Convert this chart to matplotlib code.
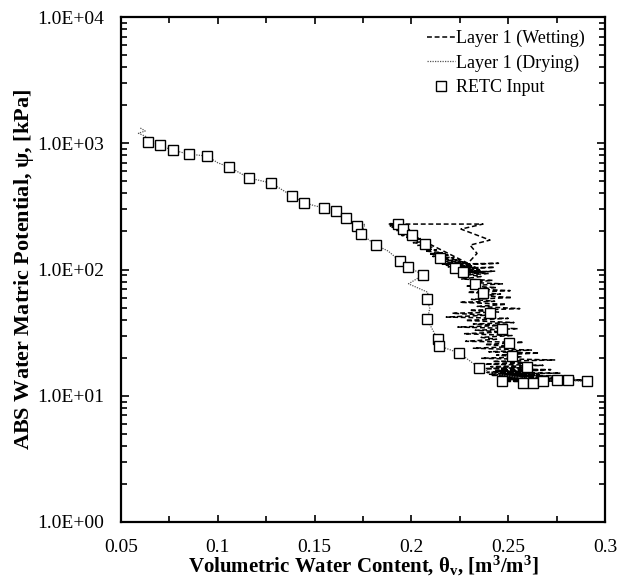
import matplotlib
matplotlib.use("Agg")
import matplotlib.pyplot as plt
from matplotlib.ticker import FixedLocator, LogLocator, NullFormatter, MultipleLocator

plt.rcParams['font.family'] = ['Liberation Serif', 'DejaVu Serif']
plt.rcParams['mathtext.fontset'] = 'custom'
plt.rcParams['mathtext.rm'] = 'Liberation Serif'
plt.rcParams['mathtext.it'] = 'Liberation Serif:italic'
plt.rcParams['mathtext.bf'] = 'Liberation Serif:bold'

# ---------------- data ----------------
wet_pts = [
    # top dashed excursion
    (0.193, 229), (0.237, 229), (0.2256, 209), (0.2406, 171), (0.2303, 156),
    (0.2339, 134), (0.2292, 112),
    # upper dense band
    (0.188, 232), (0.196, 226), (0.189, 222), (0.197, 219), (0.190, 216),
    (0.198, 213), (0.191, 210), (0.199, 207), (0.192, 204), (0.200, 201),
    (0.193, 198), (0.201, 195), (0.194, 192), (0.202, 189), (0.195, 186),
    (0.203, 183), (0.197, 180), (0.205, 176), (0.199, 171), (0.207, 167),
    (0.201, 163), (0.209, 158), (0.203, 155), (0.211, 150), (0.205, 147),
    (0.213, 143), (0.207, 140), (0.216, 136), (0.209, 133), (0.219, 130),
    (0.211, 127), (0.222, 124), (0.212, 122), (0.225, 119), (0.213, 117),
    (0.227, 115), (0.214, 113), (0.229, 112), (0.216, 110), (0.245, 112),
    (0.218, 108), (0.231, 107), (0.219, 105), (0.233, 104), (0.221, 103),
    (0.243, 104), (0.222, 101), (0.235, 100), (0.223, 99), (0.236, 98),
    (0.225, 97), (0.238, 96), (0.227, 95), (0.243, 97), (0.229, 94),
    (0.240, 93), (0.230, 91),
    # middle scattered region
    (0.236, 88), (0.226, 84), (0.242, 82), (0.230, 79), (0.247, 77),
    (0.228, 74), (0.244, 72), (0.233, 70), (0.251, 68), (0.229, 66),
    (0.246, 64), (0.236, 62), (0.252, 60), (0.231, 58), (0.243, 56),
    (0.225, 55), (0.249, 53), (0.234, 51), (0.256, 49), (0.230, 47.5),
    (0.245, 46), (0.221, 45), (0.240, 43.5), (0.218, 42), (0.250, 41),
    (0.228, 39.5), (0.253, 38), (0.232, 37), (0.247, 36), (0.224, 35),
    (0.255, 34), (0.233, 33), (0.248, 32), (0.227, 31), (0.252, 30),
    (0.236, 29), (0.244, 28), (0.228, 27), (0.258, 26.5), (0.238, 25.5),
    (0.253, 24.5), (0.232, 23.8), (0.262, 23), (0.240, 22.3), (0.266, 21.8),
    (0.244, 21), (0.257, 20.3), (0.236, 19.8), (0.274, 19.2), (0.242, 18.7),
    # bottom dense cluster
    (0.262, 18.2), (0.238, 17.8), (0.268, 17.4), (0.241, 17.0), (0.258, 16.7),
    (0.236, 16.4), (0.272, 16.1), (0.243, 15.8), (0.262, 15.6), (0.239, 15.3),
    (0.277, 15.1), (0.245, 14.9), (0.266, 14.7), (0.241, 14.5), (0.280, 14.4),
    (0.248, 14.2), (0.270, 14.0), (0.244, 13.9), (0.284, 13.8), (0.251, 13.6),
    (0.273, 13.5), (0.247, 13.4), (0.288, 13.3), (0.255, 13.2), (0.276, 13.1),
    (0.250, 13.0), (0.268, 12.9), (0.258, 12.8), (0.264, 13.6), (0.245, 14.1),
    (0.262, 14.4), (0.240, 14.8), (0.259, 15.2), (0.242, 15.5), (0.268, 15.9),
    (0.246, 16.2), (0.255, 14.6), (0.249, 13.8), (0.270, 13.3), (0.256, 13.0),
    (0.281, 13.0), (0.262, 13.4), (0.290, 13.2),
]
wet_theta = [p[0] for p in wet_pts]
wet_psi = [p[1] for p in wet_pts]

dry_theta = [0.060, 0.0625, 0.059, 0.0635, 0.0640, 0.067, 0.070, 0.077, 0.085,
             0.0943, 0.100, 0.1059, 0.1160, 0.1275, 0.1385, 0.1444, 0.150,
             0.1550, 0.1611, 0.1662, 0.1719, 0.176, 0.1740, 0.1817, 0.188,
             0.1943, 0.1984, 0.2060, 0.1985, 0.2085, 0.2082, 0.2095, 0.2082,
             0.2098, 0.2136, 0.2144, 0.2247, 0.2351, 0.2442, 0.255, 0.265,
             0.275, 0.2905]
dry_psi = [1320, 1250, 1200, 1120, 1020, 990, 960, 880, 820,
           792, 700, 648, 531, 484, 382, 339, 320,
           307, 291, 256, 221, 228, 191, 156, 140,
           116, 105, 90.4, 77, 66, 57.9, 49, 40.5,
           36, 27.9, 24.8, 21.8, 16.6, 14.8, 14.0, 13.5,
           13.3, 13.0]

retc_theta = [0.064, 0.070, 0.077, 0.085, 0.0943, 0.1059, 0.1160, 0.1275, 0.1385,
              0.1444, 0.1550, 0.1611, 0.1662, 0.1719, 0.1740, 0.1817, 0.1943,
              0.1984, 0.2060, 0.2082, 0.2082, 0.2136, 0.2144, 0.2247, 0.2351,
              0.1933, 0.1955, 0.2005, 0.2068, 0.2148, 0.2225, 0.2268, 0.2329,
              0.2368, 0.2406, 0.2470, 0.2504, 0.2518, 0.2596, 0.2466, 0.2575,
              0.2630, 0.2681, 0.2751, 0.2810, 0.2905]
retc_psi = [1020, 960, 880, 820, 792, 648, 531, 484, 382,
            339, 307, 291, 256, 221, 191, 156, 116,
            105, 90.4, 57.9, 40.5, 27.9, 24.8, 21.8, 16.6,
            229, 211, 188, 158, 123, 103, 95.5, 76.7,
            65.2, 45.2, 33.8, 26.2, 20.6, 16.9, 13.1, 12.6,
            12.6, 13.0, 13.3, 13.3, 13.0]

x_ticks = [0.05, 0.1, 0.15, 0.2, 0.25, 0.3]
x_ticklabels = ["0.05", "0.1", "0.15", "0.2", "0.25", "0.3"]
y_ticks = [1, 10, 100, 1000, 10000]
y_ticklabels = ["1.0E+00", "1.0E+01", "1.0E+02", "1.0E+03", "1.0E+04"]

# ---------------- figure ----------------
fig = plt.figure(figsize=(6.19, 5.79), dpi=100)
ax = fig.add_axes([121/619, 1-522/579, (605-121)/619, (522-17)/579])

ax.plot(wet_theta, wet_psi, linestyle=(0, (3.2, 1.8)), color='black', lw=1.1,
        label='Layer 1 (Wetting)', zorder=2)
ax.plot(dry_theta, dry_psi, linestyle=(0, (1, 1)), color='#555555', lw=0.9,
        label='Layer 1 (Drying)', zorder=2)
ax.plot(retc_theta, retc_psi, linestyle='none', marker='s', ms=6.5, mfc='white',
        mec='black', mew=1.0, label='RETC Input', zorder=3)

ax.set_yscale('log')
ax.set_xlim(0.05, 0.3)
ax.set_ylim(1, 10000)

ax.xaxis.set_major_locator(FixedLocator(x_ticks))
ax.set_xticklabels(x_ticklabels)
ax.xaxis.set_minor_locator(MultipleLocator(0.025))
ax.yaxis.set_major_locator(FixedLocator(y_ticks))
ax.set_yticklabels(y_ticklabels)
ax.yaxis.set_minor_locator(LogLocator(base=10, subs=range(2, 10), numticks=20))
ax.yaxis.set_minor_formatter(NullFormatter())

ax.tick_params(which='both', direction='in', top=True, right=True, labelsize=14,
               width=1.2, colors='black')
ax.tick_params(axis='y', which='major', length=6, pad=12)
ax.tick_params(which='minor', length=4)
ax.tick_params(axis='x', which='major', length=5, pad=12)
for s in ax.spines.values():
    s.set_linewidth(1.6)

ax.set_xlabel(r'Volumetric Water Content, $\mathbf{\theta_v}$, [m$^\mathbf{3}$/m$^\mathbf{3}$]',
              fontsize=15, fontweight='bold', labelpad=-1)
ax.set_ylabel(r'ABS Water Matric Potential, $\mathbf{\psi}$, [kPa]',
              fontsize=16, fontweight='bold', labelpad=1)

leg = ax.legend(loc='upper right', frameon=False, fontsize=13, handlelength=1.5,
                handletextpad=0.1, labelspacing=0.42, borderaxespad=0.3,
                bbox_to_anchor=(0.985, 1.0))

fig.savefig('out.png', dpi=100)
